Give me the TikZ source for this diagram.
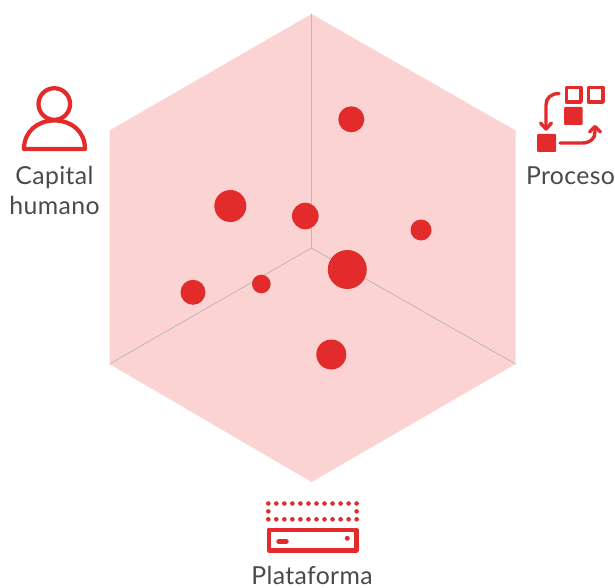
\documentclass[tikz,border=0pt]{standalone}
\usepackage{fontspec}
\setmainfont{Lato}[LetterSpace=1.5]
\definecolor{rd}{HTML}{E42B2B}
\definecolor{hexfill}{HTML}{FBD3D3}
\definecolor{guide}{HTML}{BFB8B8}
\definecolor{txt}{HTML}{4A4A4A}
\tikzset{
  dot/.style={fill=rd,draw=none},
  iconline/.style={draw=rd,line width=4.2pt,line join=round,line cap=round},
  label/.style={text=txt,font=\fontsize{24.8}{29}\selectfont,anchor=base,inner sep=0pt},
  tipline/.style={draw=rd,line width=3.4pt,line cap=round,line join=round}
}
\begin{document}
\begin{tikzpicture}[x=1pt,y=-1pt]
\useasboundingbox (0,0) rectangle (615,588);
\fill[white] (0,0) rectangle (615,588);
% hexagon
\fill[hexfill] (311.5,14) -- (515.5,130.5) -- (515.5,364) -- (311.5,482) -- (109.5,364) -- (109.5,130.5) -- cycle;
\coordinate (c) at (311.5,248);
\coordinate (t) at (311.5,14);
\coordinate (l) at (109.5,364);
\coordinate (r) at (515.5,364);
\draw[guide,line width=.8pt] (t) -- (c) (l) -- (c) -- (r);
% dots
\fill[dot] (351.3,119.3) circle (13);
\fill[dot] (230.3,206) circle (16);
\fill[dot] (305.3,216) circle (13.3);
\fill[dot] (421,230) circle (10.5);
\fill[dot] (347.3,269.5) circle (19.5);
\fill[dot] (261.3,284) circle (9.3);
\fill[dot] (193,292.3) circle (12.5);
\fill[dot] (331.3,354.5) circle (15);
% person
\draw[iconline] (54.3,104) circle (15.8);
\draw[iconline] (24,149) .. controls (24,131) and (38,120.5) .. (54.6,120.5) .. controls (71,120.5) and (85,131) .. (85,149) -- cycle;
% process
\draw[draw=rd,line width=3.4pt,line join=round] (566.5,87.5) rectangle (581,102);
\draw[draw=rd,line width=3.4pt,line join=round] (588.5,87.5) rectangle (603,102);
\fill[rd,rounded corners=1pt] (564,107) rectangle (582.5,125);
\fill[rd,rounded corners=1pt] (537,134) rectangle (556,152);
\draw[tipline] (559,93.5) .. controls (551,93.5) and (546,98) .. (546,105) -- (546,128);
\draw[tipline] (540.5,123) -- (546,129) -- (551.5,123);
\draw[tipline] (560,143) -- (582,143) .. controls (590,143) and (595,139) .. (595,132) -- (595,127);
\draw[tipline] (589.5,132) -- (595,126.5) -- (600.5,132);
% platform
\foreach \i in {0,...,11} {
  \fill[rd] ({268.3+8.03*\i},503.5) circle (2.3);
  \fill[rd] ({268.3+8.03*\i},519.3) circle (2.3);
}
\fill[rd] (268.3,511.4) circle (2.3);
\fill[rd] (356.6,511.4) circle (2.3);
\draw[draw=rd,line width=4.4pt,line join=round] (268.7,529.9) rectangle (356.4,550.3);
\draw[rd,line width=4.4pt,line cap=round] (278.5,541.5) -- (286.5,541.5);
\fill[rd] (347.3,538.3) circle (2.5);
% labels
\node[label] (capital) at (54.5,185) {Capital};
\node[label] (humano) at (54.5,214) {humano};
\node[label] (proceso) at (570.5,184) {Proceso};
\node[label] (plataforma) at (312,584.5) {Plataforma};
\end{tikzpicture}
\end{document}
